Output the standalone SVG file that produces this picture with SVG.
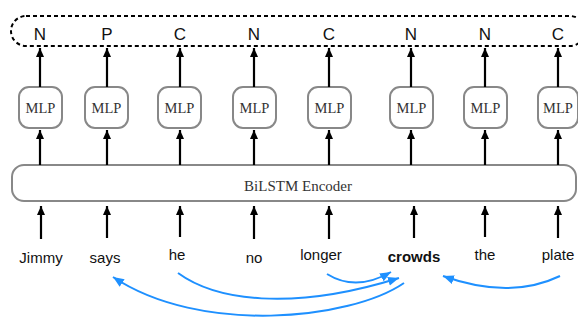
<svg xmlns="http://www.w3.org/2000/svg" width="578" height="320" viewBox="0 0 578 320">
<style>
.lab{font-family:"Liberation Sans",Arial,sans-serif;font-size:17px;fill:#111;text-anchor:middle}
.mlp rect{fill:#fff;stroke:#888;stroke-width:2}
.mlp text{font-family:"Liberation Serif","Times New Roman",serif;font-size:14.5px;fill:#333;text-anchor:middle}
.word{font-family:"Liberation Sans",Arial,sans-serif;font-size:15px;fill:#111;text-anchor:middle}
.arr{stroke:#000;stroke-width:2.2;fill:none;marker-end:url(#ah)}
.dep{stroke:#1E90FF;stroke-width:2;fill:none;marker-end:url(#bh)}
</style>
<defs>
<marker id="ah" markerUnits="userSpaceOnUse" markerWidth="10" markerHeight="10" viewBox="0 0 10 10" refX="9" refY="5" orient="auto">
<path d="M0,1 L9,5 L0,9 z" fill="#000"/>
</marker>
<marker id="bh" markerUnits="userSpaceOnUse" markerWidth="12" markerHeight="12" viewBox="0 0 12 12" refX="11" refY="6" orient="auto">
<path d="M0,1.5 L11,6 L0,10.5 z" fill="#1E90FF"/>
</marker>
</defs>
<rect id="output" x="11" y="16" width="574" height="30" rx="15" fill="none" stroke="#000" stroke-width="2" stroke-dasharray="4,3"/>
<g id="tags">
<text class="lab" x="40" y="40">N</text>
<text class="lab" x="107" y="40">P</text>
<text class="lab" x="180" y="40">C</text>
<text class="lab" x="254" y="40">N</text>
<text class="lab" x="329" y="40">C</text>
<text class="lab" x="411" y="40">N</text>
<text class="lab" x="485" y="40">N</text>
<text class="lab" x="558" y="40">C</text>
</g>
<g id="encoder">
<rect x="12" y="165" width="564" height="36" rx="12" fill="#fff" stroke="#888" stroke-width="2"/>
<text x="298" y="191" font-family="Liberation Serif,Times New Roman,serif" font-size="15" fill="#333" text-anchor="middle">BiLSTM Encoder</text>
</g>
<g id="mlp1" class="mlp"><rect x="19" y="87" width="43" height="41" rx="10"/><text x="40.5" y="113">MLP</text></g>
<g id="mlp2" class="mlp"><rect x="85" y="87" width="43" height="41" rx="10"/><text x="106.5" y="113">MLP</text></g>
<g id="mlp3" class="mlp"><rect x="158" y="87" width="43" height="41" rx="10"/><text x="179.5" y="113">MLP</text></g>
<g id="mlp4" class="mlp"><rect x="233" y="87" width="43" height="41" rx="10"/><text x="254.5" y="113">MLP</text></g>
<g id="mlp5" class="mlp"><rect x="308" y="87" width="43" height="41" rx="10"/><text x="329.5" y="113">MLP</text></g>
<g id="mlp6" class="mlp"><rect x="390" y="87" width="43" height="41" rx="10"/><text x="411.5" y="113">MLP</text></g>
<g id="mlp7" class="mlp"><rect x="464" y="87" width="43" height="41" rx="10"/><text x="485.5" y="113">MLP</text></g>
<g id="mlp8" class="mlp"><rect x="538" y="87" width="40" height="41" rx="10"/><text x="558" y="113">MLP</text></g>
<g id="words">
<text class="word" x="41" y="263">Jimmy</text>
<text class="word" x="105" y="263">says</text>
<text class="word" x="177" y="260">he</text>
<text class="word" x="254" y="263">no</text>
<text class="word" x="321" y="260">longer</text>
<text class="word" x="414" y="262" font-weight="bold">crowds</text>
<text class="word" x="485" y="260">the</text>
<text class="word" x="558" y="260">plate</text>
</g>
<g id="connectors">
<line class="arr" x1="40" y1="87" x2="40" y2="48"/>
<line class="arr" x1="107" y1="87" x2="107" y2="48"/>
<line class="arr" x1="180" y1="87" x2="180" y2="48"/>
<line class="arr" x1="254" y1="87" x2="254" y2="48"/>
<line class="arr" x1="329" y1="87" x2="329" y2="48"/>
<line class="arr" x1="411" y1="87" x2="411" y2="48"/>
<line class="arr" x1="485" y1="87" x2="485" y2="48"/>
<line class="arr" x1="558" y1="87" x2="558" y2="48"/>
<line class="arr" x1="40" y1="165" x2="40" y2="130"/>
<line class="arr" x1="107" y1="165" x2="107" y2="130"/>
<line class="arr" x1="180" y1="165" x2="180" y2="130"/>
<line class="arr" x1="254" y1="165" x2="254" y2="130"/>
<line class="arr" x1="329" y1="165" x2="329" y2="130"/>
<line class="arr" x1="411" y1="165" x2="411" y2="130"/>
<line class="arr" x1="485" y1="165" x2="485" y2="130"/>
<line class="arr" x1="558" y1="165" x2="558" y2="130"/>
<line class="arr" x1="41" y1="239" x2="41" y2="206"/>
<line class="arr" x1="107" y1="238" x2="107" y2="206"/>
<line class="arr" x1="180" y1="237" x2="180" y2="206"/>
<line class="arr" x1="254" y1="239" x2="254" y2="206"/>
<line class="arr" x1="329" y1="239" x2="329" y2="206"/>
<line class="arr" x1="414" y1="238" x2="414" y2="206"/>
<line class="arr" x1="485" y1="237" x2="485" y2="206"/>
<line class="arr" x1="558" y1="238" x2="558" y2="206"/>
<path class="dep" d="M327,274 Q356,292 391,272"/>
<path class="dep" d="M178,273 C215,300 290,312 399,278"/>
<path class="dep" d="M404,283 C350,320 200,335 113,277"/>
<path class="dep" d="M560,276 Q510,300 443,276"/>
</g>
</svg>
